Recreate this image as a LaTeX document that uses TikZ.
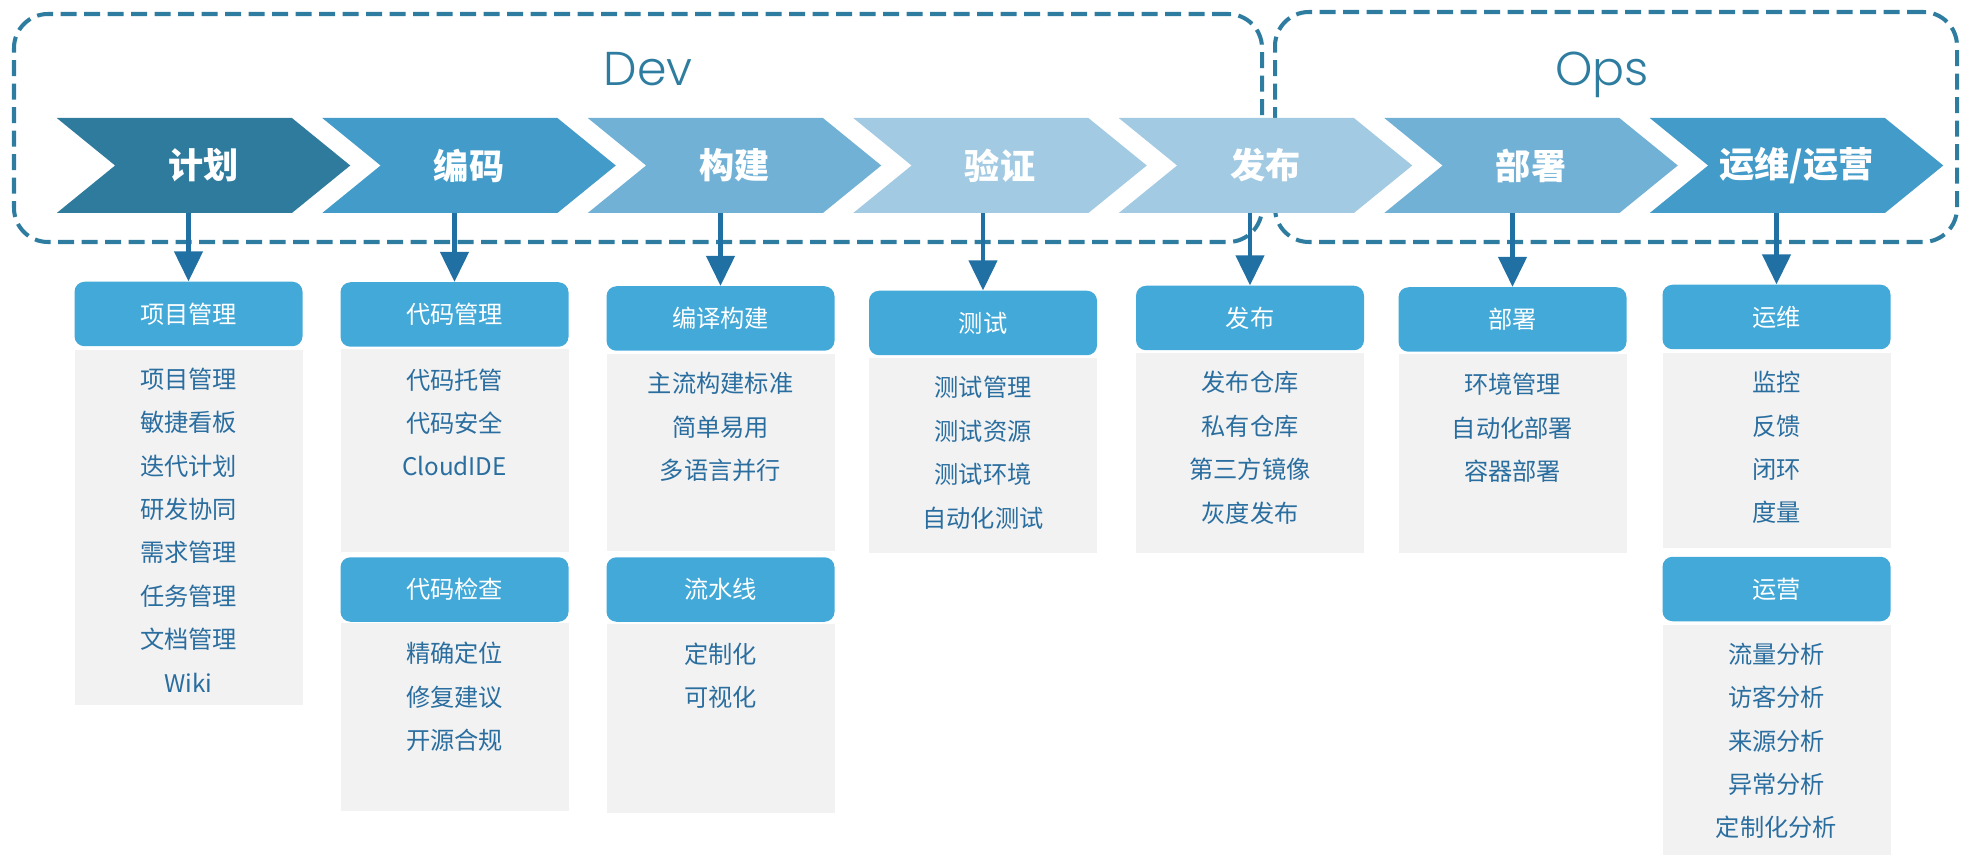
\documentclass[tikz,border=0pt]{standalone}
\usepackage{fontspec}
\setmainfont{Poppins}[UprightFont=* Light]
\newfontfamily\cjk{Noto Sans CJK SC}
\usetikzlibrary{shapes.symbols,arrows.meta}

\definecolor{dashblue}{HTML}{2E7DA0}
\definecolor{arrowblue}{HTML}{2170A4}
\definecolor{stepA}{HTML}{2E7B9D}
\definecolor{stepB}{HTML}{429BC9}
\definecolor{stepC}{HTML}{72B1D6}
\definecolor{stepD}{HTML}{A3CAE3}
\definecolor{headblue}{HTML}{42A9D8}
\definecolor{bodygray}{HTML}{F2F2F2}
\definecolor{itemblue}{HTML}{2A6EA0}

\tikzset{
  phase/.style={draw=dashblue, line width=2.3pt, dash pattern=on 0.32cm off 0.15cm, rounded corners=0.68cm},
  phaselabel/.style={anchor=base, text=dashblue, font=\fontsize{27pt}{30pt}\selectfont},
  chev/.style={signal, signal to=east, signal from=west, signal pointer angle=78.3, fill=#1,
    minimum width=5.87cm, minimum height=1.9cm, inner sep=0pt, text=white,
    font=\cjk\bfseries\fontsize{20pt}{24pt}\selectfont},
  head/.style={rounded corners=0.2cm, fill=headblue, minimum width=4.56cm, minimum height=1.29cm,
    inner sep=0pt, text=white, font=\cjk\fontsize{13.8pt}{16pt}\selectfont},
  body/.style={fill=bodygray, minimum width=4.56cm, minimum height=#1, inner sep=0pt},
  items/.style={align=center, text=itemblue, font=\cjk\fontsize{13.8pt}{24.7pt}\selectfont},
  down/.style={-{Triangle[width=0.56cm,length=0.6cm]}, draw=arrowblue, line width=2.5pt},
}

\begin{document}
\begin{tikzpicture}
	\useasboundingbox (0,0) rectangle (39.24,-17.1);

	\node[phase, minimum width=24.96cm, minimum height=4.56cm] (dev) at (12.76,-2.56) {};
	\node[phase, minimum width=13.64cm, minimum height=4.6cm] (ops) at (32.32,-2.54) {};
	\node[phaselabel] (devlabel) at (12.96,-1.71) {Dev};
	\node[phaselabel] (opslabel) at (32.04,-1.71) {Ops};

	\node[chev=stepA] (plan) at (4.07,-3.31) {计划};
	\node[chev=stepB] (code) at (9.38,-3.31) {编码};
	\node[chev=stepC] (build) at (14.69,-3.31) {构建};
	\node[chev=stepD] (verify) at (20.00,-3.31) {验证};
	\node[chev=stepD] (release) at (25.31,-3.31) {发布};
	\node[chev=stepC] (deploy) at (30.62,-3.31) {部署};
	\node[chev=stepB] (operate) at (35.93,-3.31) {运维/运营};

	\node[body=7.1cm] (pmbody) at (3.77,-10.55) {};
	\node[head] (pm) at (3.77,-6.28) {项目管理};
	\node[items] (pmlist) at (3.77,-10.6) {项目管理\\敏捷看板\\迭代计划\\研发协同\\需求管理\\任务管理\\文档管理\\Wiki};

	\node[body=4.06cm] (repobody) at (9.09,-9.01) {};
	\node[head] (repo) at (9.09,-6.29) {代码管理};
	\node[items] (repolist) at (9.09,-8.45) {代码托管\\代码安全\\CloudIDE};
	\node[body=3.76cm] (scanbody) at (9.09,-14.34) {};
	\node[head] (scan) at (9.09,-11.79) {代码检查};
	\node[items] (scanlist) at (9.09,-13.94) {精确定位\\修复建议\\开源合规};

	\node[body=3.94cm] (compilebody) at (14.41,-9.05) {};
	\node[head] (compile) at (14.41,-6.37) {编译构建};
	\node[items] (compilelist) at (14.41,-8.54) {主流构建标准\\简单易用\\多语言并行};
	\node[body=3.78cm] (pipebody) at (14.41,-14.37) {};
	\node[head] (pipe) at (14.41,-11.79) {流水线};
	\node[items] (pipelist) at (14.41,-13.51) {定制化\\可视化};

	\node[body=3.9cm] (testbody) at (19.66,-9.11) {};
	\node[head] (test) at (19.66,-6.46) {测试};
	\node[items] (testlist) at (19.66,-9.055) {测试管理\\测试资源\\测试环境\\自动化测试};

	\node[body=4.0cm] (pubbody) at (25.0,-9.06) {};
	\node[head] (pub) at (25.0,-6.36) {发布};
	\node[items] (publist) at (25.0,-8.955) {发布仓库\\私有仓库\\第三方镜像\\灰度发布};

	\node[body=3.98cm] (depbody) at (30.25,-9.07) {};
	\node[head] (dep) at (30.25,-6.39) {部署};
	\node[items] (deplist) at (30.25,-8.56) {环境管理\\自动化部署\\容器部署};

	\node[body=3.9cm] (runbody) at (35.53,-9.01) {};
	\node[head] (run) at (35.53,-6.34) {运维};
	\node[items] (runlist) at (35.53,-8.95) {监控\\反馈\\闭环\\度量};
	\node[body=4.61cm] (growbody) at (35.53,-14.795) {};
	\node[head] (grow) at (35.53,-11.78) {运营};
	\node[items] (growlist) at (35.53,-14.82) {流量分析\\访客分析\\来源分析\\异常分析\\定制化分析};

	\draw[down] (plan.south -| pm) -- (pm);
	\draw[down] (code.south -| repo) -- (repo);
	\draw[down] (build.south -| compile) -- (compile);
	\draw[down] (verify.south -| test) -- (test);
	\draw[down] (release.south -| pub) -- (pub);
	\draw[down] (deploy.south -| dep) -- (dep);
	\draw[down] (operate.south -| run) -- (run);
\end{tikzpicture}
\end{document}
